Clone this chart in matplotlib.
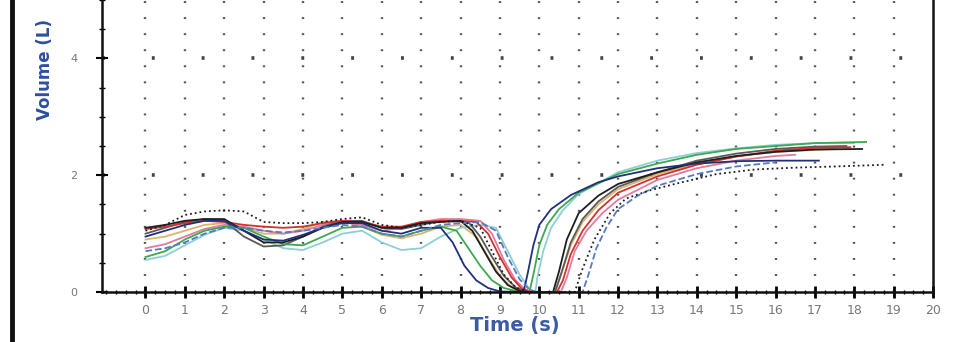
import matplotlib.pyplot as plt
from matplotlib.lines import Line2D
from matplotlib.ticker import MultipleLocator

# baseline breathing, sampled every 0.5 s
T_BASE = [0, 0.5, 1, 1.5, 2, 2.5, 3, 3.5, 4, 4.5, 5, 5.5, 6, 6.5, 7, 7.5]

BLUE_BASE = [0.95, 1.05, 1.15, 1.22, 1.22, 1.05, 0.9, 0.88, 0.98, 1.1, 1.18, 1.18, 1.05, 1.0, 1.1, 1.1]
BLUE_T = [7.8, 8.1, 8.4, 8.7, 9.0, 9.6, 9.7, 9.85, 10.0, 10.3, 10.8, 11.5, 12, 13, 14, 15, 16, 17.1]
BLUE_V = [0.85, 0.45, 0.2, 0.07, 0.01, 0.0, 0.3, 0.8, 1.15, 1.42, 1.66, 1.88, 1.98, 2.12, 2.2, 2.24, 2.25, 2.25]

GREEN_BASE = [0.6, 0.7, 0.9, 1.05, 1.12, 1.1, 0.95, 0.82, 0.8, 0.95, 1.1, 1.12, 1.0, 0.95, 1.05, 1.12]
GREEN_T = [7.9, 8.2, 8.5, 8.8, 9.1, 9.4, 9.75, 9.85, 10.0, 10.2, 10.5, 11, 12, 13, 14, 15, 16, 17, 18.3]
GREEN_V = [1.05, 0.75, 0.45, 0.2, 0.07, 0.02, 0.0, 0.3, 0.8, 1.15, 1.42, 1.7, 2.02, 2.2, 2.35, 2.45, 2.5, 2.55, 2.57]

BLACK_BASE = [1.1, 1.15, 1.22, 1.25, 1.25, 1.05, 0.85, 0.85, 0.95, 1.1, 1.2, 1.2, 1.1, 1.1, 1.18, 1.2]
BLACK_T = [8.0, 8.3, 8.6, 8.9, 9.2, 9.5, 9.75, 10.35, 10.5, 10.7, 11, 11.5, 12, 13, 14, 15, 16, 17, 18.2]
BLACK_V = [1.22, 1.05, 0.7, 0.35, 0.12, 0.02, 0.0, 0.0, 0.35, 0.9, 1.35, 1.65, 1.85, 2.05, 2.22, 2.33, 2.4, 2.44, 2.45]

GRAY_BASE = [1.0, 1.1, 1.2, 1.25, 1.22, 0.95, 0.78, 0.8, 0.95, 1.12, 1.22, 1.22, 1.1, 1.08, 1.15, 1.22]
GRAY_T = [8.2, 8.5, 8.8, 9.1, 9.4, 9.7, 10.4, 10.55, 10.8, 11.1, 11.5, 12, 13, 14, 15, 16, 17, 17.8]
GRAY_V = [1.2, 0.95, 0.6, 0.28, 0.08, 0.0, 0.0, 0.3, 0.85, 1.25, 1.55, 1.8, 2.05, 2.25, 2.37, 2.45, 2.49, 2.5]

RED_BASE = [1.08, 1.12, 1.18, 1.22, 1.2, 1.15, 1.12, 1.1, 1.12, 1.18, 1.22, 1.2, 1.12, 1.12, 1.2, 1.22]
RED_T = [8.0, 8.4, 8.7, 9.0, 9.3, 9.55, 9.8, 10.45, 10.6, 10.8, 11.1, 11.5, 12, 13, 14, 15, 16, 17, 17.9]
RED_V = [1.22, 1.2, 1.0, 0.6, 0.25, 0.06, 0.0, 0.0, 0.2, 0.65, 1.05, 1.4, 1.7, 1.98, 2.18, 2.32, 2.42, 2.47, 2.48]

PINK_BASE = [0.75, 0.82, 0.95, 1.08, 1.15, 1.12, 1.05, 1.0, 1.05, 1.15, 1.2, 1.15, 1.05, 1.1, 1.2, 1.25]
PINK_T = [8.0, 8.5, 8.8, 9.1, 9.4, 9.65, 9.85, 10.55, 10.7, 10.9, 11.2, 11.6, 12, 13, 14, 15, 16, 16.5]
PINK_V = [1.25, 1.22, 1.0, 0.55, 0.2, 0.04, 0.0, 0.0, 0.25, 0.7, 1.05, 1.35, 1.58, 1.92, 2.12, 2.25, 2.33, 2.35]

CYAN_BASE = [0.55, 0.62, 0.8, 0.98, 1.1, 1.05, 0.9, 0.75, 0.72, 0.85, 1.0, 1.05, 0.85, 0.72, 0.75, 0.95]
CYAN_T = [8.0, 8.5, 8.9, 9.2, 9.5, 9.75, 9.9, 9.95, 10.1, 10.3, 10.6, 11, 12, 13, 14, 15, 16, 17, 18.0]
CYAN_V = [1.1, 1.15, 1.1, 0.7, 0.3, 0.05, 0.0, 0.25, 0.7, 1.1, 1.4, 1.68, 2.05, 2.25, 2.38, 2.46, 2.52, 2.55, 2.55]

TAN_BASE = [0.9, 0.95, 1.05, 1.15, 1.18, 1.1, 1.0, 1.0, 1.08, 1.2, 1.22, 1.12, 0.98, 0.92, 1.0, 1.12]
TAN_T = [8.0, 8.4, 8.7, 9.0, 9.3, 9.65, 10.4, 10.55, 10.8, 11.1, 11.5, 12, 13, 14, 15, 16, 17.5]
TAN_V = [1.15, 0.95, 0.6, 0.28, 0.08, 0.0, 0.0, 0.3, 0.8, 1.2, 1.5, 1.76, 2.02, 2.2, 2.32, 2.4, 2.45]

DASH_BASE = [0.7, 0.75, 0.85, 1.0, 1.1, 1.1, 1.05, 1.02, 1.05, 1.1, 1.15, 1.12, 1.0, 0.95, 1.05, 1.15]
DASH_T = [8.0, 8.5, 8.9, 9.2, 9.5, 9.75, 9.95, 11.1, 11.25, 11.45, 11.7, 12, 12.5, 13, 14, 15, 16]
DASH_V = [1.18, 1.2, 1.05, 0.6, 0.22, 0.04, 0.0, 0.0, 0.3, 0.75, 1.1, 1.42, 1.65, 1.82, 2.02, 2.15, 2.22]

DOT_BASE = [1.05, 1.15, 1.32, 1.38, 1.4, 1.38, 1.2, 1.18, 1.18, 1.2, 1.25, 1.28, 1.15, 1.1, 1.15, 1.2]
DOT_T = [8.0, 8.5, 8.8, 9.1, 9.4, 9.7, 10.9, 11.1, 11.4, 11.8, 12.2, 12.8, 13.5, 14.5, 15.5, 16.5, 17.5, 18.8]
DOT_V = [1.22, 1.1, 0.7, 0.3, 0.08, 0.0, 0.0, 0.4, 0.9, 1.35, 1.6, 1.74, 1.86, 2.02, 2.1, 2.13, 2.15, 2.18]

X_TICKS = list(range(0, 21))
Y_TICKS = [0, 2, 4]

series = [
    (TAN_BASE, TAN_T, TAN_V, "#d9b56e", "-"),
    (CYAN_BASE, CYAN_T, CYAN_V, "#8ccfd6", "-"),
    (PINK_BASE, PINK_T, PINK_V, "#e07c9c", "-"),
    (GRAY_BASE, GRAY_T, GRAY_V, "#5a5a5a", "-"),
    (GREEN_BASE, GREEN_T, GREEN_V, "#3da84e", "-"),
    (RED_BASE, RED_T, RED_V, "#d3302f", "-"),
    (BLACK_BASE, BLACK_T, BLACK_V, "#1e1e1e", "-"),
    (BLUE_BASE, BLUE_T, BLUE_V, "#22307c", "-"),
    (DASH_BASE, DASH_T, DASH_V, "#5878c0", "--"),
    (DOT_BASE, DOT_T, DOT_V, "#1e1e1e", ":"),
]

fig = plt.figure(figsize=(9.55, 3.42), dpi=100)
ax = fig.add_axes([0.107, 0.146, 0.870, 0.854])

# dotted grid
for x in X_TICKS[:-1]:
    ax.axvline(x, color="#555555", lw=1.7, ls=(0, (0.8, 6)), zorder=0)
for y in [2, 4]:
    ax.axhline(y, color="#444444", lw=2.6, ls=(0, (0.8, 13)), zorder=0)

for base, t_tail, v_tail, color, ls in series:
    ax.plot(T_BASE + t_tail, base + v_tail, color=color, ls=ls, lw=1.3)

ax.set_xlim(-1.1, 20)
ax.set_ylim(0, 5)
ax.set_xticks(X_TICKS)
ax.set_yticks(Y_TICKS)
ax.yaxis.set_minor_locator(MultipleLocator(0.5))
ax.xaxis.set_minor_locator(MultipleLocator(0.25))
ax.tick_params(axis="x", which="major", direction="inout", length=9, width=2,
               labelsize=9, labelcolor="#777777", pad=4)
ax.tick_params(axis="x", which="minor", direction="inout", length=3, width=1)
ax.tick_params(axis="y", which="major", direction="inout", length=8, width=1.5,
               labelsize=8, labelcolor="#777777", pad=14)
ax.tick_params(axis="y", which="minor", direction="inout", length=4, width=1)

ax.spines["top"].set_visible(False)
for side in ["left", "bottom", "right"]:
    ax.spines[side].set_linewidth(1.8)
    ax.spines[side].set_color("#111111")

fig.text(45 / 955, 1 - 70 / 342, "Volume (L)", rotation=90, ha="center", va="center",
         fontsize=12, fontweight="bold", color="#2d4f9e", family="Liberation Sans Narrow")
fig.text(515 / 955, 1 - 326 / 342, "Time (s)", ha="center", va="center",
         fontsize=14, fontweight="bold", color="#3b5ba6")

fig.add_artist(Line2D([12 / 955, 12 / 955], [0, 1], color="#111111", lw=3.5))

fig.savefig("out.png", dpi=100)
